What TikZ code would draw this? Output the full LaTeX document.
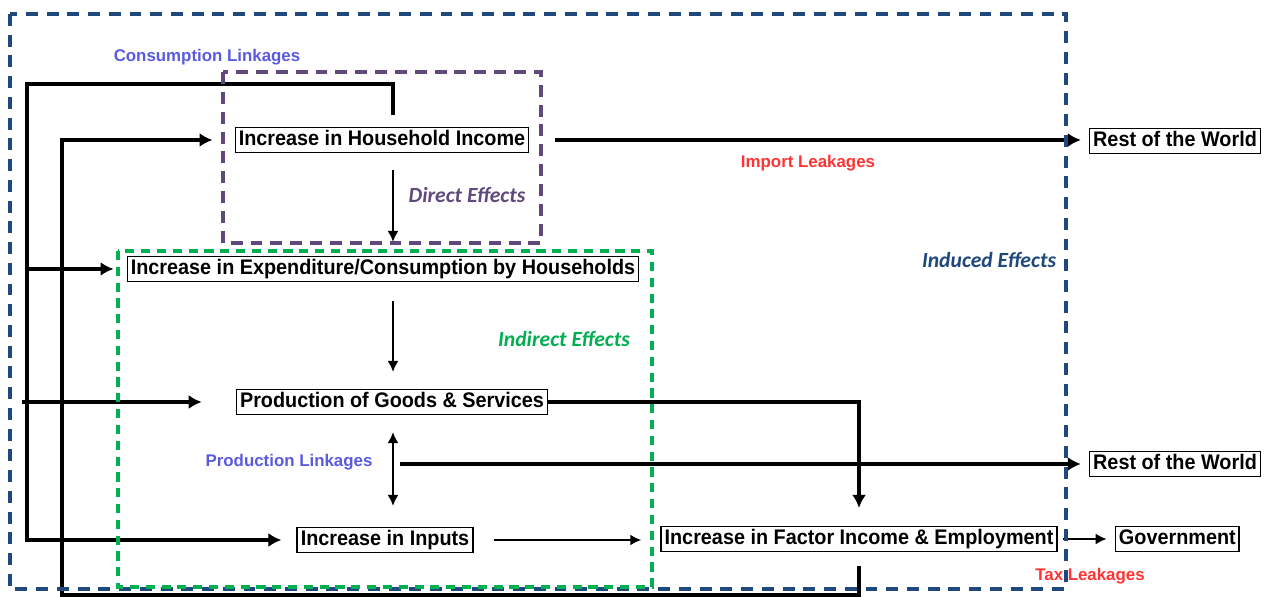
\documentclass[tikz,border=0pt]{standalone}
\usepackage{fontspec}
\setmainfont{Liberation Sans}
\newfontfamily\boxfont[FakeStretch=0.94]{Liberation Sans}
\newfontfamily\hatasfont{Carlito}
\usetikzlibrary{arrows.meta,positioning,calc}
\definecolor{induced}{RGB}{31,73,125}
\definecolor{direct}{RGB}{96,74,123}
\definecolor{indirect}{RGB}{0,176,80}
\definecolor{linkage}{RGB}{90,90,225}
\definecolor{leakage}{RGB}{255,51,51}
\tikzset{
  tile/.style={draw,line width=0.9pt,inner xsep=2pt,inner ysep=1.2pt,
               font=\boxfont\bfseries\fontsize{12}{14}\selectfont,text height=9pt,text depth=2.6pt},
  flow/.style={-{Latex[length=2.2mm,width=2.2mm]},line width=1.1pt},
  bigflow/.style={-{Latex[length=2.6mm,width=2.8mm]},line width=2.4pt},
  frame/.style={line width=1.9pt,dash pattern=on 6.8pt off 5pt},
  linktext/.style={font=\bfseries\fontsize{9.6}{11}\selectfont,text=linkage},
  leaktext/.style={font=\bfseries\fontsize{9.6}{11}\selectfont,text=leakage},
  efftext/.style={font=\hatasfont\bfseries\itshape\fontsize{12.3}{14}\selectfont},
}
\begin{document}
\begin{tikzpicture}[x=0.02cm,y=-0.02cm]
  \useasboundingbox (0,0) rectangle (1264,597);
  % 1. boxes
  \node[tile] (hhinc)  at (382,140) {Increase in Household Income};
  \node[tile] (expend) at (383,269) {Increase in Expenditure/Consumption by Households};
  \node[tile] (prod)   at (392,402) {Production of Goods \& Services};
  \node[tile] (inputs) at (385,540) {Increase in Inputs};
  \node[tile] (factor) at (859,539) {Increase in Factor Income \& Employment};
  \node[tile] (rowA)   at (1175,141) {Rest of the World};
  \node[tile] (rowB)   at (1175,464) {Rest of the World};
  \node[tile,right=1.14cm of factor] (gov) {Government};
  \coordinate (axis) at (393,0);
  \coordinate (cl) at (27,84);
  \coordinate (bl) at (62,595);
  \coordinate (plink) at (400,464);
  % 2. vertical chain
  \draw[flow,shorten <=3.4mm,shorten >=2.8mm] (hhinc.south -| axis) -- (expend.north -| axis);
  \draw[flow,shorten <=3.8mm,shorten >=3.4mm] (expend.south -| axis) -- (prod.north -| axis);
  \draw[flow,{Latex[length=2.2mm,width=2.2mm]}-{Latex[length=2.2mm,width=2.2mm]},shorten <=3.4mm,shorten >=4.2mm]
    (prod.south -| axis) -- (inputs.north -| axis);
  % 3. consumption linkages
  \draw[bigflow,shorten <=2.4mm,shorten >=3mm] (hhinc.north -| axis) |- (cl) |- (inputs.west);
  \draw[bigflow,shorten >=2.6mm] (cl |- expend) -- (expend.west);
  \draw[bigflow,shorten >=6.8mm] ([xshift=-1mm]cl |- prod) -- (prod.west);
  \draw[bigflow,shorten <=2.8mm,shorten >=4.4mm] (factor.south) |- (bl) |- (hhinc.west);
  % 4. leakages
  \draw[bigflow,shorten <=5.2mm,shorten >=1.6mm] (hhinc.east) -- (hhinc.east -| rowA.west);
  \draw[bigflow,shorten >=1.6mm] (plink) -- (rowB.west);
  \draw[bigflow,shorten >=3.6mm] (prod.east) -| (factor.north);
  \draw[flow,line width=1.4pt,shorten <=4mm,shorten >=3.8mm] (inputs.east) -- (inputs.east -| factor.west);
  \draw[flow,line width=1.4pt,shorten <=1mm,shorten >=1.6mm] (factor.east) -- (gov.west);
  % 5. frames
  \draw[frame,induced] (10,14) rectangle (1066,589);
  \draw[frame,direct,dash pattern=on 6.8pt off 4.5pt] (223,72) rectangle (541,243);
  \draw[frame,indirect,dash pattern=on 5.2pt off 3.8pt] (118,251) rectangle (652,587);
  % 6. texts
  \node[linktext] (conslab) at (207,57) {Consumption Linkages};
  \node[linktext] (prodlab) at (289,462) {Production Linkages};
  \node[leaktext] (implab) at (808,163) {Import Leakages};
  \node[leaktext] (taxlab) at (1090,576) {Tax Leakages};
  \node[efftext,text=direct] (dirlab) at (467,195) {Direct Effects};
  \node[efftext,text=indirect] (indlab) at (564,339) {Indirect Effects};
  \node[efftext,text=induced] (inducelab) at (989,260) {Induced Effects};
\end{tikzpicture}
\end{document}
